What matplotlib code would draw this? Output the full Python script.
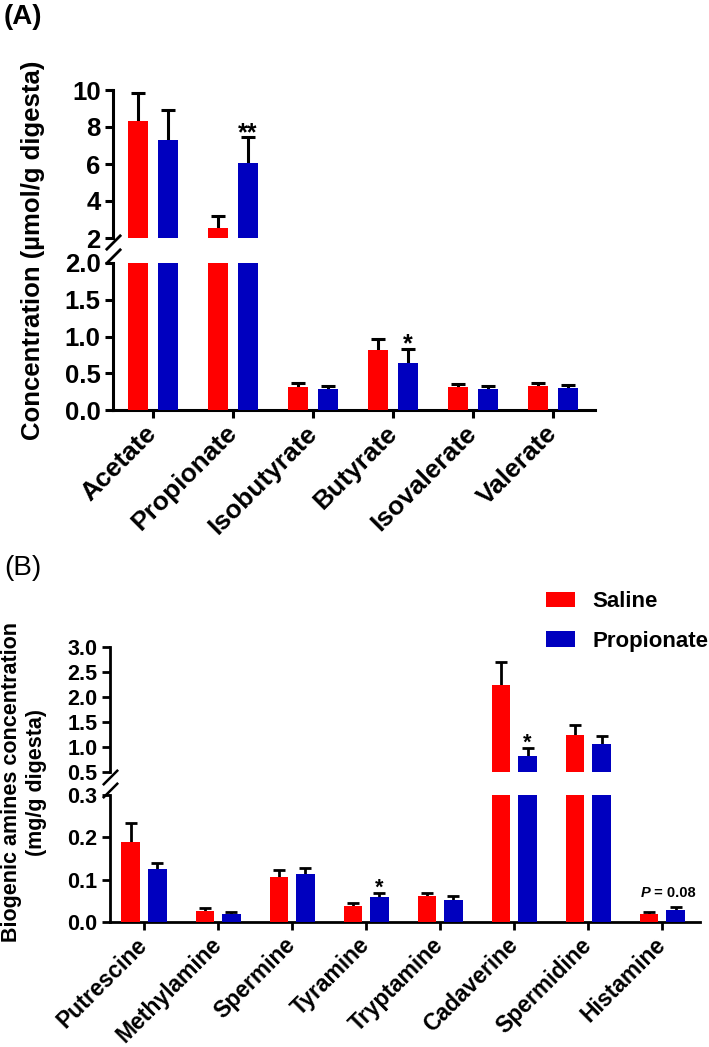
"""Short-chain fatty acids and biogenic amines, saline vs propionate, broken-axis bars."""
import numpy as np
import matplotlib; matplotlib.use('Agg')
import matplotlib.pyplot as plt
from matplotlib.patches import Patch

plt.rcParams['font.family'] = ['Liberation Sans', 'DejaVu Sans']
plt.rcParams['font.weight'] = 'bold'

RED = '#ff0000'
BLUE = '#0000bf'

# panel A: SCFA, umol/g digesta
scfa = ['Acetate', 'Propionate', 'Isobutyrate', 'Butyrate', 'Isovalerate', 'Valerate']
scfa_saline = [8.3, 2.55, 0.31, 0.82, 0.31, 0.33]
scfa_saline_err = [1.55, 0.65, 0.06, 0.15, 0.05, 0.04]
scfa_prop = [7.3, 6.05, 0.28, 0.64, 0.29, 0.30]
scfa_prop_err = [1.6, 1.4, 0.05, 0.19, 0.04, 0.04]
scfa_stars = {1: '**', 3: '*'}

# panel B: biogenic amines, mg/g digesta
amines = ['Putrescine', 'Methylamine', 'Spermine', 'Tyramine', 'Tryptamine',
          'Cadaverine', 'Spermidine', 'Histamine']
amine_saline = [0.190, 0.026, 0.107, 0.038, 0.061, 2.25, 1.25, 0.019]
amine_saline_err = [0.043, 0.006, 0.017, 0.006, 0.007, 0.46, 0.20, 0.004]
amine_prop = [0.125, 0.018, 0.114, 0.060, 0.052, 0.82, 1.07, 0.028]
amine_prop_err = [0.014, 0.006, 0.014, 0.009, 0.009, 0.17, 0.15, 0.008]
amine_stars = {3: '*', 5: '*'}

W, H = 709, 1047


def px_axes(fig, x0, x1, y0, y1):
    return fig.add_axes([x0 / W, 1 - y1 / H, (x1 - x0) / W, (y1 - y0) / H])


def style(ax, lw, bottom=True):
    for s in ('top', 'right'):
        ax.spines[s].set_visible(False)
    ax.spines['left'].set_linewidth(lw)
    ax.spines['bottom'].set_linewidth(lw)
    if not bottom:
        ax.spines['bottom'].set_visible(False)
        ax.tick_params(axis='x', bottom=False, labelbottom=False)
    ax.tick_params(width=lw, length=6, direction='out')


def draw_bars(ax, x, s, se, p, pe, off, bw, cap, elw):
    ax.bar(x - off, s, bw, color=RED, lw=0, zorder=3)
    ax.bar(x + off, p, bw, color=BLUE, lw=0, zorder=3)
    for xx, v, e in ((x - off, s, se), (x + off, p, pe)):
        _, caps, _ = ax.errorbar(xx, v, yerr=[np.zeros(len(v)), e], fmt='none',
                                 ecolor='k', elinewidth=elw, capsize=cap,
                                 capthick=elw, zorder=2)
        caps[0].set_visible(False)


def break_marks(ax, where, lw):
    kw = dict(marker=[(-1, -1), (1, 1)], markersize=11, linestyle='none',
              color='k', mec='k', mew=lw, clip_on=False, transform=ax.transAxes)
    ax.plot([0], [where], **kw)


fig = plt.figure(figsize=(W / 100, H / 100), dpi=100)

# ---------------- panel A ----------------
xa = np.arange(len(scfa))
a_top = px_axes(fig, 113, 595, 90, 238)
a_bot = px_axes(fig, 113, 595, 263, 410)
for ax in (a_top, a_bot):
    draw_bars(ax, xa, np.array(scfa_saline), np.array(scfa_saline_err),
              np.array(scfa_prop), np.array(scfa_prop_err), 0.1875, 0.25, 5, 2.2)
    ax.set_xlim(-0.5, 5.525)
a_top.set_ylim(2, 10)
a_top.set_yticks([2, 4, 6, 8, 10])
a_bot.set_ylim(0, 2)
a_bot.set_yticks([0, 0.5, 1.0, 1.5, 2.0])
a_bot.set_yticklabels([f'{v:.1f}' for v in [0, 0.5, 1.0, 1.5, 2.0]])
style(a_top, 2.2, bottom=False)
style(a_bot, 2.2)
for ax in (a_top, a_bot):
    ax.tick_params(labelsize=18.5, pad=3)
a_bot.set_xticks(xa)
a_bot.set_xticklabels(scfa, rotation=45, ha='right', va='center',
                      rotation_mode='anchor', fontsize=19)
a_bot.tick_params(axis='x', pad=8)
break_marks(a_top, -0.03, 2.0)
break_marks(a_bot, 1.05, 2.0)
for i, st in scfa_stars.items():
    top = scfa_prop[i] + scfa_prop_err[i]
    ax = a_top if top > 2 else a_bot
    ax.annotate(st, (xa[i] + 0.1875, top), xytext=(0, -2), textcoords='offset points',
                ha='center', va='baseline', fontsize=18)
fig.text(33 / W, 1 - 250 / H, 'Concentration (µmol/g digesta)', rotation=90,
         ha='center', va='center', fontsize=18.5)
fig.text(4 / W, 1 - 17 / H, '(A)', ha='left', va='center', fontsize=20)

# ---------------- panel B ----------------
xb = np.arange(len(amines))
b_top = px_axes(fig, 110, 700, 647, 772)
b_bot = px_axes(fig, 110, 700, 795, 922)
for ax in (b_top, b_bot):
    draw_bars(ax, xb, np.array(amine_saline), np.array(amine_saline_err),
              np.array(amine_prop), np.array(amine_prop_err), 0.18, 0.25, 4.5, 2.0)
    ax.set_xlim(-0.46, 7.51)
b_top.set_ylim(0.5, 3.0)
b_top.set_yticks([0.5, 1.0, 1.5, 2.0, 2.5, 3.0])
b_top.set_yticklabels([f'{v:.1f}' for v in [0.5, 1.0, 1.5, 2.0, 2.5, 3.0]])
b_bot.set_ylim(0, 0.3)
b_bot.set_yticks([0, 0.1, 0.2, 0.3])
b_bot.set_yticklabels([f'{v:.1f}' for v in [0, 0.1, 0.2, 0.3]])
style(b_top, 2.0, bottom=False)
style(b_bot, 2.0)
for ax in (b_top, b_bot):
    ax.tick_params(labelsize=15.5, pad=3)
b_bot.set_xticks(xb)
b_bot.set_xticklabels(amines, rotation=45, ha='right', va='center',
                      rotation_mode='anchor', fontsize=16.5)
b_bot.tick_params(axis='x', pad=8)
break_marks(b_top, -0.04, 1.8)
break_marks(b_bot, 1.04, 1.8)
for i, st in amine_stars.items():
    top = amine_prop[i] + amine_prop_err[i]
    ax = b_top if top > 0.5 else b_bot
    ax.annotate(st, (xb[i] + 0.18, top), xytext=(0, -1), textcoords='offset points',
                ha='center', va='baseline', fontsize=15.5)
hi = amine_prop[7] + amine_prop_err[7]
b_bot.annotate('P', (6.84, hi), xytext=(0, 7), textcoords='offset points',
               ha='right', va='baseline', fontsize=10.5, style='italic')
b_bot.annotate(' = 0.08', (6.84, hi), xytext=(0, 7), textcoords='offset points',
               ha='left', va='baseline', fontsize=10.5)
fig.text(24 / W, 1 - 782 / H, 'Biogenic amines concentration\n(mg/g digesta)',
         rotation=90, ha='center', va='center', multialignment='center',
         fontsize=15.5, linespacing=1.2)
fig.text(4 / W, 1 - 568 / H, '(B)', ha='left', va='center', fontsize=20,
         fontweight='normal')

handles = [Patch(color=RED, lw=0), Patch(color=BLUE, lw=0)]
fig.legend(handles, ['Saline', 'Propionate'], loc='upper left',
           bbox_to_anchor=(546 / W, 1 - 591 / H), frameon=False, fontsize=16,
           handlelength=1.3, handleheight=0.68, handletextpad=0.8,
           labelspacing=0.85, borderpad=0, borderaxespad=0)

fig.savefig('out.png', dpi=100)
